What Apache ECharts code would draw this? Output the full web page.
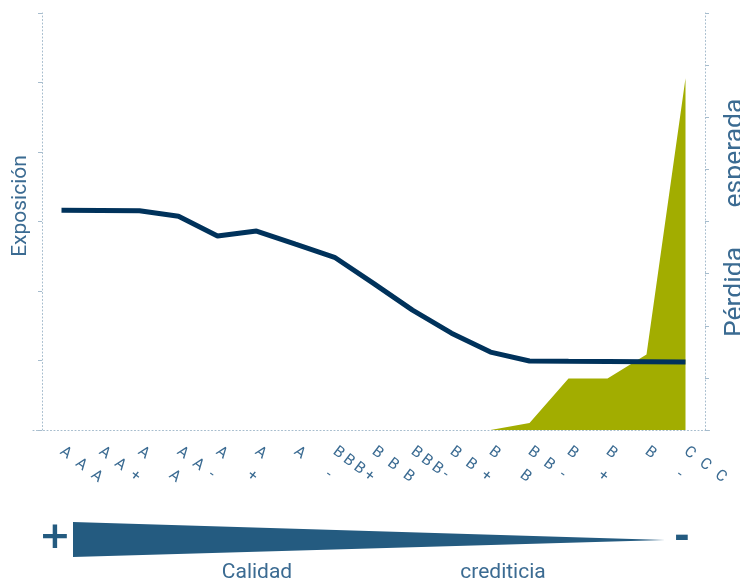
<!DOCTYPE html>
<html><head><meta charset="utf-8">
<script src="https://cdn.jsdelivr.net/npm/echarts@6/dist/echarts.min.js"></script>
<style>html,body{margin:0;padding:0;background:#fff}#c{width:740px;height:586px}</style>
</head><body><div id="c"></div>
<script>
// Categories (credit ratings, best to worst)
const ratings = ['AAA','AA+','AA','AA-','A+','A','A-','BBB+','BBB','BBB-','BB+','BB','BB-','B+','B','B-','CCC'];
// Exposición (left axis, arbitrary units)
const exposure = [3.161,3.158,3.154,3.075,2.791,2.863,2.673,2.485,2.109,1.724,1.393,1.121,0.993,0.989,0.986,0.982,0.978];
// Pérdida esperada (right axis, arbitrary units)
const expectedLoss = [0,0,0,0,0,0,0,0,0,0,0,0,0.134,0.988,0.988,1.448,6.747];
// Texts
const leftName = 'Exposición';
const rightNameParts = ['Pérdida','esperada'];
const bottomWords = ['Calidad','crediticia'];

const txt = '#3b6b92';
const axisCol = '#a6bccd';
const font = 'Roboto, "Noto Sans", sans-serif';

function fmt(v){
  const ch = v.split('');
  const n = ch.length;
  if(n===1) return '{a|'+ch[0]+'}';
  const key = 'p'+(n-1);
  return ch.map((c,i)=> i<n-1 ? '{'+key+'|'+c+'}' : '{a|'+c+'}').join('');
}
const base = {fontSize:15.5, color:txt, fontFamily:font};
const chart = echarts.init(document.getElementById('c'));
const dotted = {color:axisCol, width:1, type:[1,2.5]};
chart.setOption({
  animation:false,
  grid:[
    {left:42, right:35, top:13, bottom:156},
    {left:33, right:28, top:13, bottom:156}
  ],
  xAxis:[
    {type:'category', gridIndex:0, data:ratings, boundaryGap:true,
     axisLine:{show:false}, axisTick:{show:false}, splitLine:{show:false},
     axisLabel:{interval:0, rotate:-37, margin:20, formatter:fmt,
       rich:{a:base, p1:Object.assign({width:39},base), p2:Object.assign({width:19.5},base), p3:Object.assign({width:13},base)}}},
    {type:'value', gridIndex:1, min:0, max:1, axisLine:{show:true, lineStyle:dotted},
     axisTick:{show:false}, axisLabel:{show:false}, splitLine:{show:false}}
  ],
  yAxis:[
    {type:'value', gridIndex:0, position:'left', min:0, max:6, interval:1,
     axisLine:{show:true, lineStyle:dotted}, axisTick:{show:true, length:4, lineStyle:{color:axisCol}},
     axisLabel:{show:false}, splitLine:{show:false}},
    {type:'value', gridIndex:0, position:'right', min:0, max:8, interval:1,
     axisLine:{show:true, lineStyle:dotted}, axisTick:{show:true, length:4, lineStyle:{color:axisCol}},
     axisLabel:{show:false}, splitLine:{show:false}},
    {type:'value', gridIndex:1, show:false, min:0, max:1}
  ],
  series:[
    {type:'line', xAxisIndex:0, yAxisIndex:1, data:expectedLoss, symbol:'none',
     lineStyle:{width:0}, areaStyle:{color:'#a2ad00', opacity:1}, z:2},
    {type:'line', xAxisIndex:0, yAxisIndex:0, data:exposure, symbol:'none',
     lineStyle:{width:5, color:'#00325b'}, z:3}
  ],
  graphic:[
    {type:'text', x:21, y:206, rotation:Math.PI/2,
     style:{text:leftName, fontSize:21, fontFamily:font, fill:txt, align:'center', verticalAlign:'middle'}},
    {type:'text', x:735, y:292, rotation:Math.PI/2,
     style:{text:rightNameParts[0], fontSize:26.5, fontFamily:font, fill:txt, align:'center', verticalAlign:'middle'}},
    {type:'text', x:735, y:153, rotation:Math.PI/2,
     style:{text:rightNameParts[1], fontSize:26.5, fontFamily:font, fill:txt, align:'center', verticalAlign:'middle'}},
    {type:'polygon', shape:{points:[[73,522],[73,557],[665,540]]}, style:{fill:'#245b80'}},
    {type:'text', x:55, y:538, style:{text:'+', fontSize:38, fontWeight:'bold', fontFamily:'"DejaVu Sans"', fill:'#245b80', align:'center', verticalAlign:'middle'}},
    {type:'text', x:682, y:538, style:{text:'-', fontSize:38, fontWeight:'bold', fontFamily:'"DejaVu Sans"', fill:'#245b80', align:'center', verticalAlign:'middle'}},
    {type:'text', x:257, y:573, style:{text:bottomWords[0], fontSize:21, fontFamily:font, fill:txt, align:'center', verticalAlign:'middle'}},
    {type:'text', x:503, y:573, style:{text:bottomWords[1], fontSize:21, fontFamily:font, fill:txt, align:'center', verticalAlign:'middle'}}
  ]
});
</script></body></html>
